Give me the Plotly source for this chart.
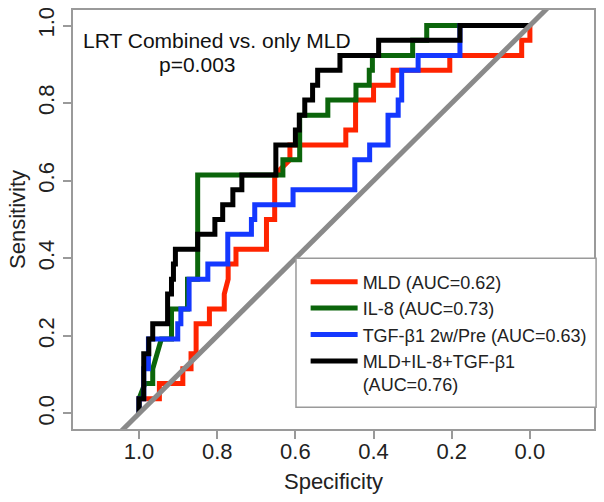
import plotly.graph_objects as go

# ---------------- data ----------------
mld_spec = [1.0, 1.0, 0.948, 0.948, 0.888, 0.888, 0.867, 0.867, 0.854, 0.854, 0.82, 0.82,
            0.782, 0.782, 0.772, 0.772, 0.752, 0.752, 0.674, 0.674, 0.653, 0.653, 0.614, 0.614,
            0.471, 0.471, 0.446, 0.446, 0.40, 0.40, 0.35, 0.35, 0.205, 0.205, 0.021, 0.021, 0.0, 0.0]
mld_sens = [0.0, 0.038, 0.038, 0.077, 0.077, 0.115, 0.115, 0.154, 0.154, 0.231, 0.231, 0.269,
            0.269, 0.308, 0.346, 0.385, 0.385, 0.423, 0.423, 0.5, 0.5, 0.615, 0.654, 0.692,
            0.692, 0.731, 0.731, 0.808, 0.808, 0.846, 0.846, 0.885, 0.885, 0.923, 0.923, 0.962, 0.962, 1.0]

il8_spec = [1.0, 1.0, 0.985, 0.965, 0.965, 0.943, 0.917, 0.917, 0.876, 0.876, 0.85, 0.85,
            0.632, 0.632, 0.589, 0.589, 0.517, 0.517, 0.445, 0.445, 0.411, 0.411, 0.403, 0.403,
            0.30, 0.30, 0.264, 0.264, 0.0]
il8_sens = [0.0, 0.038, 0.077, 0.077, 0.115, 0.192, 0.192, 0.269, 0.269, 0.346, 0.346, 0.615,
            0.615, 0.654, 0.654, 0.769, 0.769, 0.808, 0.808, 0.846, 0.846, 0.885, 0.885, 0.923,
            0.923, 0.962, 0.962, 1.0, 1.0]

tgf_spec = [1.0, 1.0, 0.988, 0.988, 0.976, 0.976, 0.901, 0.901, 0.893, 0.893, 0.872, 0.872,
            0.824, 0.824, 0.773, 0.773, 0.7125, 0.7125, 0.704, 0.704, 0.606, 0.606, 0.448, 0.448,
            0.41, 0.41, 0.363, 0.363, 0.337, 0.337, 0.328, 0.328, 0.286, 0.286, 0.179, 0.179, 0.0]
tgf_sens = [0.0, 0.038, 0.038, 0.115, 0.115, 0.192, 0.192, 0.231, 0.231, 0.269, 0.269, 0.346,
            0.346, 0.385, 0.385, 0.462, 0.462, 0.5, 0.5, 0.538, 0.538, 0.577, 0.577, 0.654,
            0.654, 0.692, 0.692, 0.769, 0.769, 0.808, 0.808, 0.885, 0.885, 0.923, 0.923, 1.0, 1.0]

comb_spec = [1.0, 1.0, 0.988, 0.988, 0.975, 0.975, 0.965, 0.965, 0.927, 0.927, 0.917, 0.917,
             0.912, 0.912, 0.907, 0.907, 0.85, 0.85, 0.806, 0.806, 0.786, 0.786, 0.76, 0.76,
             0.737, 0.737, 0.65, 0.65, 0.60, 0.60, 0.59, 0.59, 0.576, 0.576, 0.556, 0.556,
             0.543, 0.543, 0.486, 0.486, 0.387, 0.387, 0.179, 0.179, 0.0]
comb_sens = [0.0, 0.038, 0.038, 0.154, 0.154, 0.192, 0.192, 0.231, 0.231, 0.308, 0.308, 0.346,
             0.346, 0.385, 0.385, 0.423, 0.423, 0.462, 0.462, 0.5, 0.5, 0.538, 0.538, 0.577,
             0.577, 0.615, 0.615, 0.692, 0.692, 0.731, 0.731, 0.769, 0.769, 0.808, 0.808, 0.846,
             0.846, 0.885, 0.885, 0.923, 0.923, 0.962, 0.962, 1.0, 1.0]

diag_spec = [1.2, -0.2]
diag_sens = [-0.2, 1.2]

series_names = ["MLD (AUC=0.62)", "IL-8 (AUC=0.73)", "TGF-β1 2w/Pre (AUC=0.63)",
                "MLD+IL-8+TGF-β1<br>(AUC=0.76)"]
series_colors = ["#ff2400", "#0b650b", "#1438ff", "#000000"]

tick_vals = [0.0, 0.2, 0.4, 0.6, 0.8, 1.0]
tick_text = ["0.0", "0.2", "0.4", "0.6", "0.8", "1.0"]

title_line1 = "LRT Combined vs. only MLD"
title_line2 = "p=0.003"

# ---------------- figure ----------------
FONT = "Liberation Sans, Arial, Helvetica, sans-serif"
fig = go.Figure()

for xs, ys, name, col in zip([mld_spec, il8_spec, tgf_spec, comb_spec],
                             [mld_sens, il8_sens, tgf_sens, comb_sens],
                             series_names, series_colors):
    fig.add_trace(go.Scatter(x=xs, y=ys, mode="lines", name=name, legendgroup=name,
                             line=dict(color=col, width=5)))

fig.add_trace(go.Scatter(x=diag_spec, y=diag_sens, mode="lines", showlegend=False,
                         line=dict(color="#8a8a8a", width=5), hoverinfo="skip"))

axis_common = dict(showgrid=False, zeroline=False, showline=True, mirror=True,
                   linecolor="#9a9a9a", linewidth=1.5, ticks="outside", ticklen=8,
                   tickcolor="#9a9a9a", tickwidth=1.5, tickvals=tick_vals, ticktext=tick_text,
                   tickfont=dict(family=FONT, size=22, color="#222222"))

fig.update_layout(
    width=604, height=502,
    margin=dict(l=73, r=10, t=7, b=73),
    paper_bgcolor="white", plot_bgcolor="white",
    font=dict(family=FONT, color="#222222"),
    xaxis=dict(range=[1.169, -0.164], ticklabelstandoff=-6,
               title=dict(text="Specificity", font=dict(size=22), standoff=10),
               **axis_common),
    yaxis=dict(range=[-0.04, 1.04], tickangle=-90,
               title=dict(text="Sensitivity", font=dict(size=22), standoff=3), **axis_common),
    legend=dict(x=0.4465, y=0.395, xanchor="left", yanchor="top", bgcolor="rgba(0,0,0,0)",
                borderwidth=0, font=dict(family=FONT, size=18, color="#222222"),
                tracegroupgap=0, valign="top", itemwidth=47),
    shapes=[dict(type="rect", xref="paper", yref="paper", x0=0.428, x1=1.004, y0=0.052, y1=0.4076,
                 fillcolor="white", line=dict(color="#9a9a9a", width=1.5), layer="above")],
    annotations=[
        dict(x=0.80, y=0.962, xref="x", yref="y", text=title_line1, showarrow=False,
             font=dict(family=FONT, size=21, color="#111111")),
        dict(x=0.85, y=0.900, xref="x", yref="y", text=title_line2, showarrow=False,
             font=dict(family=FONT, size=21, color="#111111")),
    ],
)

fig.write_html("out.html", config={"displayModeBar": False},
               post_script="document.body.style.margin='0px';")
